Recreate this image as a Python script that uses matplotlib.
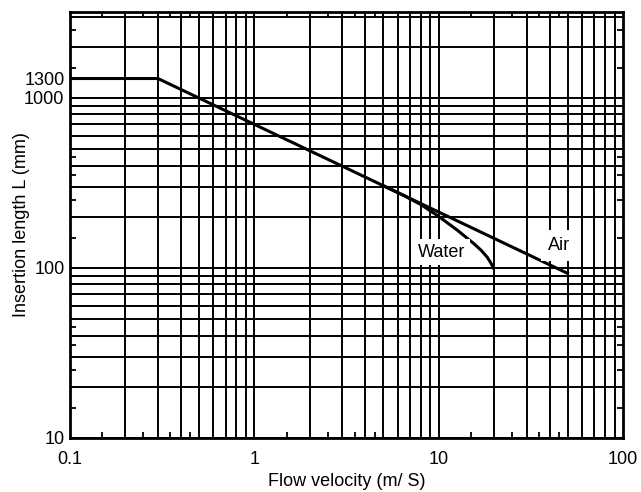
import matplotlib
matplotlib.use("Agg")
import matplotlib.pyplot as plt
from matplotlib.ticker import FixedLocator, NullFormatter

# values
air_v = [0.1, 0.3, 50]
air_L = [1300, 1300, 93]

water_v = [5, 6.5, 8, 10, 12.6, 15.4, 17, 18.3, 19.2, 19.8]
water_L = [305, 266, 236, 201, 167, 140, 127, 116, 107, 100]

x_labels = [0.1, 1, 10, 100]
y_labels = [10, 100, 1000, 1300]

decades_x = [0.1, 1, 10]
decades_y = [10, 100, 1000]

plt.rcParams['font.family'] = ['Liberation Sans', 'DejaVu Sans']

fig = plt.figure(figsize=(6.41, 4.92), dpi=100)
ax = fig.add_axes([70 / 641, 1 - 438 / 492, 553 / 641, 426 / 492])

ax.set_xscale('log')
ax.set_yscale('log')
ax.set_xlim(0.1, 100)
ax.set_ylim(10, 3200)

# grid at 1..9 of every decade
for d in decades_x:
    for k in range(1, 10):
        ax.axvline(d * k, color='black', lw=1.4, zorder=1)
for d in decades_y:
    for k in range(1, 10):
        if d * k < 3200:
            ax.axhline(d * k, color='black', lw=1.4, zorder=1)

ax.plot(air_v, air_L, color='black', lw=2.2, zorder=3)
ax.plot(water_v, water_L, color='black', lw=2.2, zorder=3)

ax.text(10.4, 124, 'Water', fontsize=13, ha='center', va='center',
        zorder=4, bbox=dict(facecolor='white', edgecolor='none', pad=3))
ax.text(45, 136, 'Air', fontsize=13, ha='center', va='center',
        zorder=4, bbox=dict(facecolor='white', edgecolor='none', pad=5))

ax.xaxis.set_major_locator(FixedLocator(x_labels))
ax.set_xticklabels(['0.1', '1', '10', '100'])
ax.yaxis.set_major_locator(FixedLocator(y_labels))
ax.set_yticklabels(['10', '100', '1000', '1300'])

half = [1.5, 2.5, 3.5, 4.5]
ax.xaxis.set_minor_locator(FixedLocator([d * h for d in decades_x for h in half]))
ax.yaxis.set_minor_locator(FixedLocator([d * h for d in decades_y for h in half if d * h < 3200]))
ax.xaxis.set_minor_formatter(NullFormatter())
ax.yaxis.set_minor_formatter(NullFormatter())

ax.tick_params(axis='y', which='major', length=0, labelsize=13, pad=4)
ax.tick_params(axis='x', which='major', length=0, labelsize=13, pad=9)
ax.tick_params(which='minor', direction='in', length=4, width=1.3,
               top=True, right=True, bottom=True, left=True)

for s in ax.spines.values():
    s.set_linewidth(2)
    s.set_zorder(5)

ax.set_xlabel('Flow velocity (m/ S)', fontsize=13)
ax.set_ylabel('Insertion length L (mm)', fontsize=13)
ax.xaxis.set_label_coords(0.5, -0.082)
ax.yaxis.set_label_coords(-0.072, 0.5)

fig.savefig('out.png', dpi=100)
